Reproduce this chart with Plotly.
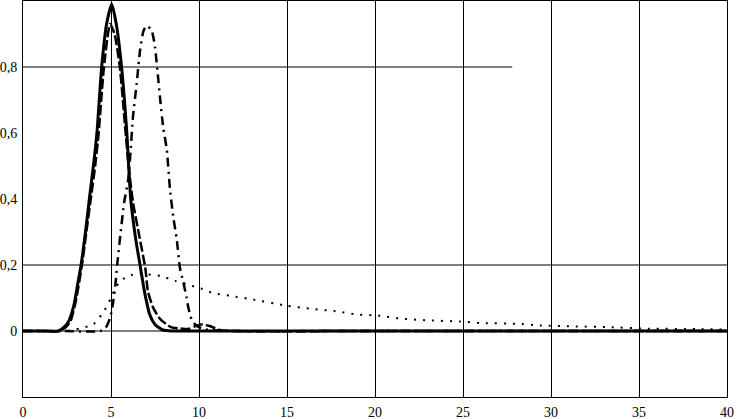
import plotly.graph_objects as go

# values
x_solid = [0, 1, 2.0, 2.3, 2.6, 2.9, 3.1, 3.3, 3.55, 3.77, 4.0, 4.2, 4.47, 4.75, 5.04,
           5.3, 5.6, 5.9, 6.12, 6.4, 6.65, 6.9, 7.2, 7.5, 7.95, 8.5, 10, 20, 30, 40]
y_solid = [0, 0, 0.0, 0.01, 0.03, 0.08, 0.14, 0.2, 0.3, 0.4, 0.5, 0.6, 0.8, 0.93, 0.99,
           0.93, 0.8, 0.6, 0.4, 0.28, 0.2, 0.12, 0.05, 0.02, 0.003, 0, 0, 0, 0, 0]

x_dash = [0, 1, 2.0, 2.4, 2.7, 3.0, 3.35, 3.6, 3.85, 4.1, 4.3, 4.6, 4.95, 5.2, 5.5,
          5.8, 6.0, 6.25, 6.6, 6.95, 7.1, 7.4, 7.8, 8.4, 8.9, 9.4, 9.8, 10.1, 10.6, 11.2, 12, 20, 30, 40]
y_dash = [0, 0, 0.0, 0.01, 0.03, 0.09, 0.2, 0.3, 0.4, 0.5, 0.6, 0.8, 0.93, 0.9, 0.8,
          0.62, 0.5, 0.39, 0.29, 0.19, 0.12, 0.07, 0.036, 0.012, 0.008, 0.006, 0.015, 0.02, 0.015, 0.003, 0, 0, 0, 0]

x_dashdot = [0, 2, 4.4, 4.7, 4.95, 5.1, 5.25, 5.35, 5.55, 5.75, 5.98, 6.12, 6.25, 6.46,
             6.65, 6.85, 7.03, 7.31, 7.5, 7.69, 7.78, 7.97, 8.17, 8.35, 8.54, 8.73, 8.92, 9.1, 9.3,
             9.4, 9.58, 9.87, 10.3, 10.8, 11.5, 20, 30, 40]
y_dashdot = [0, 0, 0.0, 0.01, 0.04, 0.08, 0.14, 0.2, 0.3, 0.39, 0.46, 0.55, 0.65, 0.75,
             0.85, 0.91, 0.925, 0.91, 0.86, 0.76, 0.71, 0.615, 0.55, 0.43, 0.345, 0.28, 0.19, 0.15, 0.1,
             0.07, 0.035, 0.015, 0.006, 0.002, 0, 0, 0, 0]

x_dot = [0, 2.5, 3.0, 3.4, 4.0, 4.6, 5.0, 5.25, 5.6, 6.1, 6.5, 7.0, 7.8, 8.64, 9.58, 10.2,
         10.8, 11.86, 12.9, 14.94, 16.4, 17.9, 18.96, 20.1, 21.6, 23.1, 24.8, 26.1, 28.05,
         29.4, 31.25, 33.2, 35.6, 38.3, 40]
y_dot = [0, 0, 0.005, 0.01, 0.02, 0.06, 0.1, 0.13, 0.155, 0.168, 0.175, 0.172, 0.167, 0.152,
         0.137, 0.127, 0.115, 0.106, 0.097, 0.077, 0.067, 0.059, 0.05, 0.047, 0.037, 0.032,
         0.029, 0.024, 0.022, 0.017, 0.014, 0.012, 0.007, 0.006, 0.004]

x_ticks = [0, 5, 10, 15, 20, 25, 30, 35, 40]
y_ticks = [0, 0.2, 0.4, 0.6, 0.8]
y_ticktext = ["0", "0,2", "0,4", "0,6", "0,8"]

fig = go.Figure()

fig.add_trace(go.Scatter(x=x_dot, y=y_dot, mode='lines', line_shape='spline',
                         line=dict(color='black', width=2, dash='2px,7px', smoothing=0.6)))
fig.add_trace(go.Scatter(x=x_dashdot, y=y_dashdot, mode='lines', line_shape='spline',
                         line=dict(color='black', width=2.5, dash='9px,5px,2px,5px', smoothing=0.6)))
fig.add_trace(go.Scatter(x=x_dash, y=y_dash, mode='lines', line_shape='spline',
                         line=dict(color='black', width=2.5, dash='10px,3px', smoothing=0.6)))
fig.add_trace(go.Scatter(x=x_solid, y=y_solid, mode='lines', line_shape='spline',
                         line=dict(color='black', width=3, smoothing=0.6)))

# horizontal grid lines (only some are drawn in the original)
for yv in [0, 0.2]:
    fig.add_shape(type='line', xref='x', yref='y', x0=0, x1=40, y0=yv, y1=yv,
                  line=dict(color='black', width=1), layer='below')
fig.add_shape(type='line', xref='x', yref='y', x0=0, x1=27.8, y0=0.8, y1=0.8,
              line=dict(color='black', width=1), layer='below')

fig.update_layout(
    width=738, height=419,
    margin=dict(l=23, r=11, t=1, b=22),
    showlegend=False,
    plot_bgcolor='white',
    paper_bgcolor='white',
    font=dict(family='Liberation Serif', size=14, color='black'),
    xaxis=dict(range=[0, 40], tickvals=x_ticks, showgrid=True, gridcolor='black',
               gridwidth=1, zeroline=False, showline=True, mirror=True, automargin=False,
               linecolor='black', linewidth=1, ticks='', ticklabelstandoff=2),
    yaxis=dict(range=[-0.2, 1.0], tickvals=y_ticks, ticktext=y_ticktext, showgrid=False,
               zeroline=False, showline=True, mirror=True, linecolor='black', automargin=False,
               linewidth=1, ticks='', ticklabelstandoff=2),
)

fig.write_html("out.html", config={'displayModeBar': False},
               post_script="document.body.style.margin='0';")
